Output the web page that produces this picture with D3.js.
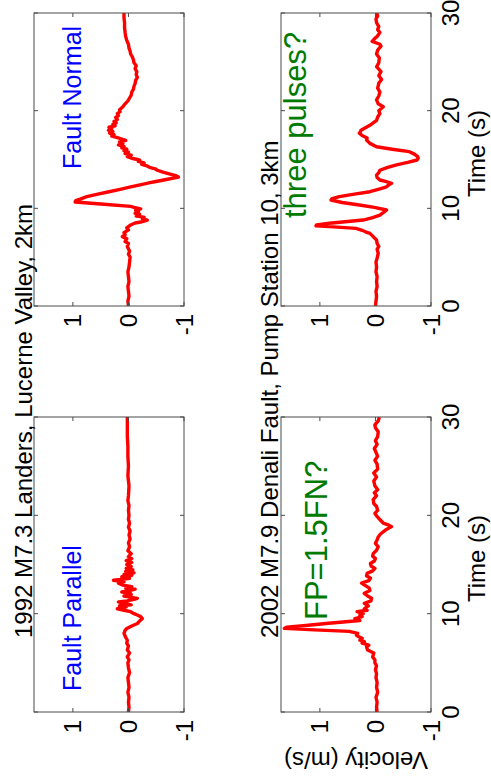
<!DOCTYPE html>
<html>
<head>
<meta charset="utf-8">
<script src="https://cdn.jsdelivr.net/npm/d3@7"></script>
<style>
  html, body { margin: 0; padding: 0; background: #fff; }
  svg { display: block; }
  text { font-family: "Liberation Sans", Arial, Helvetica, sans-serif; }
</style>
</head>
<body>
<div id="chart"></div>
<script>
// ---------------- DATA ----------------
const timeTicks = [0, 10, 20, 30];
const velTicks = [-1, 0, 1];
const timeDomain = [0, 30];
const velDomain = [-1, 1.7];

const titleLanders = "1992 M7.3 Landers, Lucerne Valley, 2km";
const titleDenali = "2002 M7.9 Denali Fault, Pump Station 10, 3km";
const labelFP = "Fault Parallel";
const labelFN = "Fault Normal";
const noteDenaliFP = "FP=1.5FN?";
const noteDenaliFN = "three pulses?";
const xLabel = "Time (s)";
const yLabel = "Velocity (m/s)";

// [time (s), velocity (m/s)]
const landersFP = [
  [0,0.00],[0.5,-0.01],[1,0.00],[1.5,-0.01],[2,0.01],[2.5,-0.01],[3,0.00],[3.5,0.01],[4,-0.02],[4.5,0.00],
  [5,0.01],[5.3,-0.01],[5.6,0.02],[6,-0.02],[6.3,0.02],[6.7,0.00],[7,0.03],[7.3,0.02],[7.6,0.05],[8,0.08],
  [8.3,0.06],[8.5,0.03],[8.75,-0.06],[9,-0.16],[9.25,-0.2],[9.5,-0.25],[9.7,-0.22],[9.86,-0.16],[10,-0.1],[10.2,-0.04],
  [10.35,0.08],[10.5,0.2],[10.6,0.12],[10.7,0.04],[10.8,0.16],[10.9,-0.05],[11.05,0.08],[11.2,0.18],[11.3,0.02],[11.45,-0.1],
  [11.56,-0.16],[11.7,0.0],[11.8,0.08],[11.95,-0.05],[12.1,-0.03],[12.2,0.12],[12.35,-0.02],[12.5,-0.12],[12.6,0.05],[12.75,-0.06],
  [12.9,0.1],[13.1,0.18],[13.25,0.08],[13.4,0.27],[13.5,0.1],[13.6,-0.02],[13.75,0.12],[13.9,-0.06],[14,0.08],[14.15,-0.1],
  [14.3,0.05],[14.45,-0.08],[14.6,0.04],[14.8,-0.05],[15,0.03],[15.2,-0.06],[15.4,0.04],[15.6,-0.06],[15.8,0.0],[16.1,-0.05],
  [16.4,0.01],[16.8,-0.02],[17.2,0.0],[17.6,-0.03],[18,-0.01],[18.4,-0.03],[18.8,0.0],[19.2,-0.02],[19.6,0.0],[20,-0.01],
  [20.5,0.0],[21,-0.01],[21.5,0.01],[22,0.0],[23,-0.01],[24,0.01],[25,0.0],[26,0.01],[27,0.01],[28,0.02],[29,0.02],[30,0.02]
];

const landersFN = [
  [0,0.00],[0.5,0.01],[1,-0.01],[1.5,0.00],[2,0.01],[2.5,-0.01],[3,0.00],[3.5,0.01],[4,-0.01],[4.5,-0.02],
  [5,-0.03],[5.3,0.00],[5.6,-0.02],[6.1,0.02],[6.4,0.00],[6.6,0.06],[6.9,0.03],[7.1,0.11],[7.3,0.06],[7.5,0.08],
  [7.8,0.00],[8,0.03],[8.3,-0.04],[8.5,-0.12],[8.6,-0.22],[8.8,-0.34],[8.95,-0.25],[9.1,-0.28],[9.2,-0.14],[9.4,-0.2],
  [9.5,-0.12],[9.66,-0.18],[9.8,-0.13],[9.95,-0.22],[10.1,-0.1],[10.2,-0.04],[10.45,0.5],[10.65,0.96],[10.8,0.95],[10.95,0.87],
  [11.2,0.75],[11.45,0.55],[11.7,0.35],[11.95,0.15],[12.2,-0.04],[12.45,-0.25],[12.7,-0.45],[12.95,-0.68],[13.2,-0.9],[13.35,-0.85],
  [13.5,-0.75],[13.7,-0.62],[13.9,-0.52],[14.05,-0.48],[14.2,-0.38],[14.35,-0.33],[14.5,-0.24],[14.65,-0.28],[14.8,-0.18],[14.95,-0.2],
  [15.1,-0.08],[15.3,0.02],[15.45,-0.05],[15.6,0.06],[15.75,0.0],[15.9,0.08],[16.05,0.03],[16.2,0.12],[16.35,0.08],[16.5,0.18],
  [16.66,0.1],[16.8,0.16],[16.95,0.05],[17.1,0.12],[17.25,0.2],[17.4,0.3],[17.55,0.26],[17.7,0.34],[17.85,0.28],[18,0.36],
  [18.15,0.3],[18.3,0.35],[18.45,0.24],[18.6,0.28],[18.75,0.22],[18.9,0.26],[19.1,0.2],[19.3,0.23],[19.5,0.18],[19.7,0.2],
  [19.9,0.15],[20.1,0.16],[20.4,0.1],[20.7,0.06],[21,0.01],[21.3,-0.02],[21.6,-0.05],[21.9,-0.06],[22.2,-0.09],[22.5,-0.1],
  [22.8,-0.12],[23.1,-0.13],[23.4,-0.16],[23.7,-0.14],[24,-0.15],[24.3,-0.12],[24.6,-0.14],[24.9,-0.1],[25.2,-0.09],[25.5,-0.07],
  [25.8,-0.04],[26.1,-0.03],[26.4,-0.01],[26.8,0.0],[27.2,0.03],[27.6,0.05],[28,0.06],[28.5,0.07],[29,0.07],[29.5,0.08],[30,0.08]
];

const denaliFP = [
  [0,-0.03],[0.5,-0.02],[1,-0.03],[1.5,-0.01],[2,-0.04],[2.5,-0.02],[3,-0.03],[3.5,-0.01],[3.9,-0.02],[4.3,0.00],
  [4.7,-0.02],[5,0.01],[5.3,0.01],[5.6,0.05],[6,0.03],[6.3,0.14],[6.6,0.16],[6.8,0.12],[7,0.24],[7.15,0.2],
  [7.3,0.28],[7.5,0.24],[7.65,0.3],[7.8,0.34],[8,0.32],[8.2,0.47],[8.35,1.1],[8.5,1.64],[8.62,1.6],[8.8,1.25],
  [9,0.89],[9.3,0.28],[9.5,0.37],[9.7,0.24],[9.85,0.28],[10,0.22],[10.2,0.33],[10.35,0.15],[10.5,0.2],[10.8,0.13],
  [11.05,0.2],[11.3,0.08],[11.56,0.07],[11.8,0.14],[12.07,0.2],[12.35,0.1],[12.6,0.11],[12.85,0.18],[13.1,0.25],[13.35,0.12],
  [13.6,0.09],[13.85,0.16],[14.1,0.15],[14.35,0.05],[14.6,0.01],[14.85,0.08],[15.1,0.09],[15.35,0.02],[15.6,0.0],[15.85,0.05],
  [16.1,0.04],[16.45,-0.02],[16.8,-0.05],[17.15,0.0],[17.5,-0.03],[17.8,-0.05],[18.1,-0.09],[18.5,-0.18],[18.85,-0.29],[19,-0.24],
  [19.2,-0.14],[19.45,-0.1],[19.7,-0.06],[19.95,-0.02],[20.2,0.01],[20.5,-0.04],[20.9,-0.02],[21.2,0.03],[21.6,0.04],[22,-0.02],
  [22.3,0.02],[22.6,-0.04],[23,0.01],[23.5,0.03],[23.9,-0.02],[24.3,0.03],[24.7,-0.04],[25.2,-0.03],[25.6,0.01],[26,-0.04],
  [26.4,-0.01],[26.8,0.02],[27.2,-0.03],[27.6,0.0],[28,-0.04],[28.5,-0.05],[28.9,0.0],[29.2,0.01],[29.6,-0.05],[30,-0.07]
];

const denaliFN = [
  [0,0.00],[0.5,-0.01],[1,-0.02],[1.5,-0.01],[2,-0.03],[2.5,-0.02],[3,-0.03],[3.5,-0.01],[4,-0.02],[4.5,-0.01],
  [4.9,-0.03],[5.4,-0.05],[5.8,-0.03],[6.1,-0.06],[6.4,-0.03],[6.76,-0.02],[7.1,0.04],[7.44,0.1],[7.6,0.18],[7.75,0.24],
  [7.95,0.35],[8.1,0.75],[8.2,1.07],[8.3,1.06],[8.47,0.83],[8.65,0.5],[8.8,0.22],[9.05,0.05],[9.3,-0.08],[9.55,-0.14],
  [9.83,-0.2],[10.1,0.02],[10.34,0.29],[10.6,0.6],[10.85,0.8],[11,0.78],[11.2,0.65],[11.45,0.38],[11.7,0.1],[11.95,-0.05],
  [12.2,-0.2],[12.4,-0.24],[12.56,-0.29],[12.75,-0.18],[12.9,-0.08],[13.15,-0.03],[13.4,-0.02],[13.65,-0.06],[13.9,-0.08],[14.2,-0.22],
  [14.45,-0.38],[14.7,-0.58],[14.95,-0.75],[15.15,-0.77],[15.3,-0.76],[15.55,-0.7],[15.8,-0.61],[16.05,-0.3],[16.3,-0.02],[16.65,0.1],
  [17,0.16],[17.2,0.15],[17.45,0.24],[17.7,0.29],[17.85,0.27],[18,0.26],[18.25,0.18],[18.5,0.1],[18.75,0.04],[19,-0.02],
  [19.35,-0.04],[19.7,-0.08],[20,-0.06],[20.4,-0.14],[20.7,-0.05],[21.1,-0.02],[21.5,-0.06],[21.9,-0.08],[22.3,-0.04],[22.8,-0.06],
  [23.2,-0.11],[23.6,-0.06],[24,-0.1],[24.5,-0.02],[24.9,-0.06],[25.4,-0.07],[25.8,-0.02],[26.2,-0.04],[26.6,-0.1],[26.8,-0.08],
  [27.1,0.06],[27.4,0.01],[27.6,-0.03],[28,-0.08],[28.3,-0.04],[28.6,-0.06],[29,-0.02],[29.4,-0.01],[29.7,-0.04],[30,-0.02]
];

// ---------------- LAYOUT (unrotated figure frame: 780 wide x 491 tall) ----------------
const W = 491, H = 780;
const colX = [[68, 363], [474, 767]];
const rowY = [[34, 184], [281, 431]];

const panels = [
  { data: landersFP, col: 0, row: 0, note: labelFP, noteColor: "#0000ff", noteU: 89, noteV: 81, noteSize: 25, xTickLabels: false },
  { data: landersFN, col: 1, row: 0, note: labelFN, noteColor: "#0000ff", noteU: 611, noteV: 81, noteSize: 25, xTickLabels: false },
  { data: denaliFP,  col: 0, row: 1, note: noteDenaliFP, noteColor: "#007a00", noteU: 160, noteV: 327, noteSize: 31, xTickLabels: true, yLabel: true },
  { data: denaliFN,  col: 1, row: 1, note: noteDenaliFN, noteColor: "#007a00", noteU: 562, noteV: 306, noteSize: 31, xTickLabels: true }
];

const svg = d3.select("#chart").append("svg")
  .attr("width", W).attr("height", H)
  .attr("viewBox", `0 0 ${W} ${H}`);

svg.append("rect").attr("width", W).attr("height", H).attr("fill", "#fff");

// rotate the whole figure 90 degrees counter-clockwise
const fig = svg.append("g").attr("transform", `translate(0,${H}) rotate(-90)`);

const boxColor = "#4a4a4a";
const tickLen = 4;

panels.forEach(p => {
  const [x0, x1] = colX[p.col];
  const [y0, y1] = rowY[p.row];
  const x = d3.scaleLinear().domain(timeDomain).range([x0, x1]);
  const y = d3.scaleLinear().domain(velDomain).range([y1, y0]);
  const g = fig.append("g");

  const cid = `clip-${p.col}-${p.row}`;
  g.append("clipPath").attr("id", cid).append("rect")
    .attr("x", x0).attr("y", y0).attr("width", x1 - x0).attr("height", y1 - y0);

  const line = d3.line().x(d => x(d[0])).y(d => y(d[1])).curve(d3.curveLinear);
  g.append("path").datum(p.data)
    .attr("clip-path", `url(#${cid})`)
    .attr("d", line)
    .attr("fill", "none")
    .attr("stroke", "#ff0000")
    .attr("stroke-width", 3.4)
    .attr("stroke-linejoin", "round");

  g.append("rect").attr("x", x0).attr("y", y0).attr("width", x1 - x0).attr("height", y1 - y0)
    .attr("fill", "none").attr("stroke", boxColor).attr("stroke-width", 1);

  timeTicks.forEach(t => {
    const px = x(t);
    g.append("line").attr("x1", px).attr("x2", px).attr("y1", y1).attr("y2", y1 - tickLen)
      .attr("stroke", boxColor).attr("stroke-width", 1);
    g.append("line").attr("x1", px).attr("x2", px).attr("y1", y0).attr("y2", y0 + tickLen)
      .attr("stroke", boxColor).attr("stroke-width", 1);
  });
  velTicks.forEach(v => {
    const py = y(v);
    g.append("line").attr("x1", x0).attr("x2", x0 + tickLen).attr("y1", py).attr("y2", py)
      .attr("stroke", boxColor).attr("stroke-width", 1);
    g.append("line").attr("x1", x1).attr("x2", x1 - tickLen).attr("y1", py).attr("y2", py)
      .attr("stroke", boxColor).attr("stroke-width", 1);
  });

  velTicks.forEach(v => {
    g.append("text").attr("x", x0 - 8).attr("y", y(v))
      .attr("text-anchor", "end").attr("dominant-baseline", "central")
      .attr("font-size", 24).attr("fill", "#000")
      .text(v);
  });

  if (p.xTickLabels) {
    timeTicks.forEach(t => {
      g.append("text").attr("x", x(t)).attr("y", y1 + 28)
        .attr("text-anchor", "middle")
        .attr("font-size", 24).attr("fill", "#000")
        .text(t);
    });
    g.append("text").attr("x", (x0 + x1) / 2 + 6).attr("y", y1 + 54)
      .attr("text-anchor", "middle").attr("font-size", 24).attr("fill", "#000")
      .text(xLabel);
  }

  if (p.yLabel) {
    g.append("text")
      .attr("transform", `translate(28,${(y0 + y1) / 2}) rotate(-90)`)
      .attr("text-anchor", "middle").attr("font-size", 24).attr("fill", "#000")
      .text(yLabel);
  }

  g.append("text").attr("x", p.noteU).attr("y", p.noteV)
    .attr("font-size", p.noteSize).attr("fill", p.noteColor)
    .text(p.note);
});

fig.append("text").attr("x", 142).attr("y", 32).attr("font-size", 24).attr("fill", "#000").text(titleLanders);
fig.append("text").attr("x", 142).attr("y", 278).attr("font-size", 24).attr("fill", "#000").text(titleDenali);
</script>
</body>
</html>
